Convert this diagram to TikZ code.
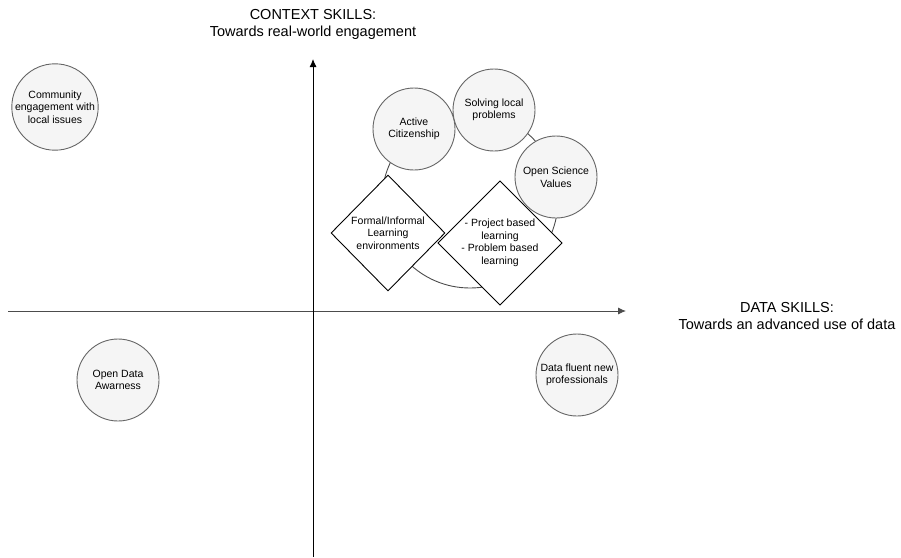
\documentclass[tikz,border=0pt]{standalone}
\usepackage{fontspec}
\setmainfont{Liberation Sans}
\usetikzlibrary{shapes.geometric,arrows.meta}
\definecolor{circfill}{HTML}{F5F5F5}
\definecolor{circline}{HTML}{666666}
\tikzset{
  skill/.style={circle, draw=circline, fill=circfill, line width=0.9pt,
    minimum size=82pt, inner sep=0pt, align=center,
    font=\fontsize{10.5}{12.5}\selectfont},
  method/.style={diamond, draw=black, fill=white, line width=0.9pt,
    minimum width=114pt, minimum height=116pt, inner sep=0pt, align=center,
    font=\fontsize{10.5}{12.5}\selectfont},
  axis/.style={line width=0.9pt, -{Latex[length=8pt,width=7pt]}},
  axislabel/.style={align=center, font=\fontsize{14.5}{17}\selectfont}
}
\begin{document}
\begin{tikzpicture}[x=1pt,y=-1pt]
\useasboundingbox (0,0) rectangle (901,557);
% axes
\coordinate (xstart) at (8,311);
\coordinate (xend) at (626,311);
\coordinate (ystart) at (313,557);
\coordinate (yend) at (313,59);
\draw[axis, draw=black!70, fill=black] (xstart) -- (xend);
\draw[axis] (ystart) -- (yend);
% axis labels
\node[axislabel] (ylab) at (313,24) {CONTEXT SKILLS:\\Towards real-world engagement};
\node[axislabel] (xlab) at (787,316) {DATA SKILLS:\\Towards an advanced use of data};
% big ring behind cluster
\node[circle, draw=black!70, line width=0.9pt, minimum size=176pt, inner sep=0pt] (ring) at (470,200) {};
% corner circles
\node[skill] (community) at (55,107) {Community\\engagement with\\local issues};
\node[skill] (opendata) at (118,380) {Open Data\\Awarness};
\node[skill] (fluent) at (577,375) {Data fluent new\\professionals};
% cluster circles
\node[skill] (active) at (414,129) {Active\\Citizenship};
\node[skill] (solving) at (494,110) {Solving local\\problems};
\node[skill] (openscience) at (556,177) {Open Science\\Values};
% diamonds
\node[method] (formal) at (388,233) {Formal/Informal\\Learning\\environments};
\node[method] (project) at (500,243) {- Project based\\learning\\- Problem based\\learning};
\end{tikzpicture}
\end{document}
